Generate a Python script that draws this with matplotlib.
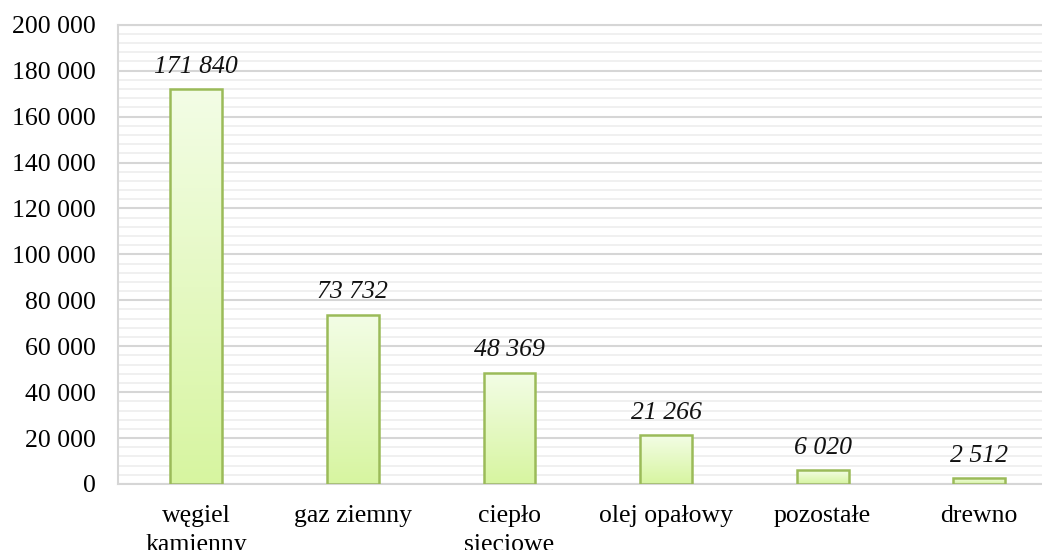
import numpy as np
import matplotlib
matplotlib.use('Agg')
import matplotlib.pyplot as plt
from matplotlib.ticker import MultipleLocator, FuncFormatter

# Data
categories = ['węgiel\nkamienny', 'gaz ziemny', 'ciepło\nsieciowe', 'olej opałowy', 'pozostałe', 'drewno']
values = [171840, 73732, 48369, 21266, 6020, 2512]

plt.rcParams['font.family'] = ['Liberation Serif', 'DejaVu Serif']

def fmt(v, pos=None):
    return f'{int(v):,}'.replace(',', ' ')

fig = plt.figure(figsize=(10.42, 5.5), dpi=100)
# plot area runs past the right edge of the picture, as in the source
ax = fig.add_axes([0.113, 0.12, 0.902, 0.835])

x = np.arange(len(categories))
bars = ax.bar(x, values, width=0.33, facecolor='none', edgecolor='#9bbb59', linewidth=1.8, zorder=3)

# gradient fill, light at top to green at bottom
grad = np.linspace(0, 1, 256).reshape(-1, 1)
cmap = matplotlib.colors.LinearSegmentedColormap.from_list('g', ['#d7f5a0', '#f3fde6'])
for b in bars:
    x0, y0 = b.get_x(), b.get_y()
    w, h = b.get_width(), b.get_height()
    im = ax.imshow(grad, cmap=cmap, aspect='auto', origin='lower',
                   extent=(x0, x0 + w, y0, y0 + h), zorder=2)
    im.set_clip_path(b)

for xi, v in zip(x, values):
    ax.annotate(fmt(v), (xi, v), xytext=(0, 12), textcoords='offset points',
                ha='center', va='baseline', fontsize=18.5, style='italic', color='#111111')

ax.set_xlim(-0.5, len(categories) - 0.5)
ax.set_ylim(0, 200000)
ax.yaxis.set_major_locator(MultipleLocator(20000))
ax.yaxis.set_minor_locator(MultipleLocator(4000))
ax.yaxis.set_major_formatter(FuncFormatter(fmt))
ax.grid(axis='y', which='major', color='#d6d6d6', linewidth=1.5, zorder=0)
ax.grid(axis='y', which='minor', color='#eeeeee', linewidth=1.2, zorder=0)
ax.set_axisbelow(True)

ax.set_xticks(x)
ax.set_xticklabels(categories, fontsize=18.5, linespacing=1.4)
ax.tick_params(axis='x', length=0, pad=15)
ax.tick_params(axis='y', which='both', length=0, labelsize=18.5, pad=16)

for s in ax.spines.values():
    s.set_color('#d6d6d6')
    s.set_linewidth(1.5)

fig.savefig('out.png', dpi=100)
